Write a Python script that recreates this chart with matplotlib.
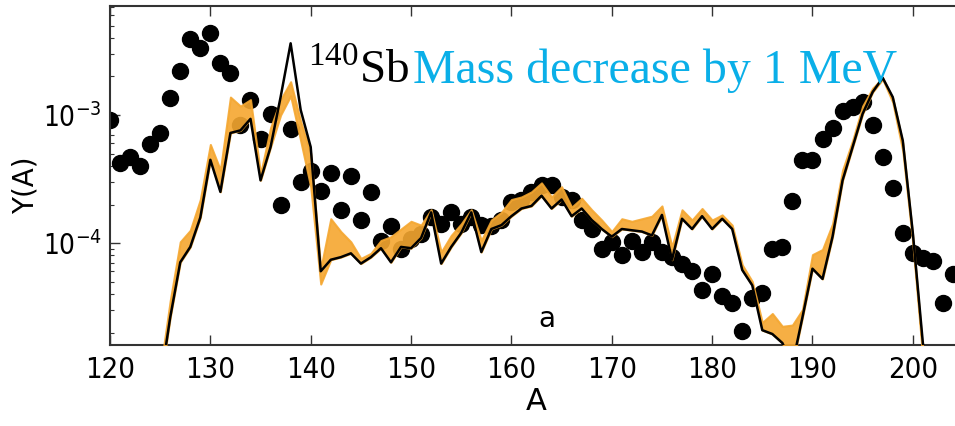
#!/usr/bin/env python3
"""r-process abundance pattern: 140Sb mass decreased by 1 MeV."""

import matplotlib
matplotlib.use("Agg")
import matplotlib.pyplot as plt
import numpy as np

# solar r-process abundances, log10 Y(A), A = 120..204
solar_A = list(range(120, 205))
solar_logY = [
    -3.04, -3.375, -3.33, -3.40, -3.23, -3.14, -2.87, -2.66, -2.41, -2.48,
    -2.36, -2.59, -2.67, -3.08, -2.88, -3.19, -2.99, -3.70, -3.11, -3.52,
    -3.44, -3.59, -3.45, -3.74, -3.48, -3.82, -3.60, -3.98, -3.87, -4.05,
    -3.97, -3.93, -3.80, -3.85, -3.76, -3.85, -3.80, -3.86, -3.87, -3.82,
    -3.68, -3.66, -3.60, -3.55, -3.55, -3.64, -3.66, -3.82, -3.89, -4.05,
    -3.99, -4.09, -3.98, -4.07, -3.99, -4.07, -4.11, -4.16, -4.22, -4.37,
    -4.24, -4.41, -4.47, -4.69, -4.43, -4.39, -4.05, -4.03, -3.67, -3.35,
    -3.35, -3.19, -3.10, -2.97, -2.94, -2.90, -3.08, -3.33, -3.57, -3.92,
    -4.08, -4.12, -4.14, -4.47, -4.24,
]

# model, A = 125..202
model_A = list(range(125, 203))
model_logY = [
    -5.10, -4.58, -4.15, -4.03, -3.80, -3.35, -3.60, -3.14, -3.12, -3.03,
    -3.51, -3.25, -2.86, -2.44, -2.96, -3.25, -4.22, -4.13, -4.11, -4.08,
    -4.16, -4.11, -4.04, -4.15, -4.03, -4.04, -3.96, -3.76, -4.16, -4.03,
    -3.92, -3.76, -4.07, -3.89, -3.86, -3.79, -3.73, -3.71, -3.63, -3.73,
    -3.66, -3.79, -3.73, -3.82, -3.89, -3.95, -3.89, -3.90, -3.91, -3.94,
    -3.78, -4.13, -3.81, -3.89, -3.79, -3.89, -3.81, -3.89, -4.21, -4.33,
    -4.68, -4.71, -4.78, -4.95, -4.58, -4.20, -4.28, -3.95, -3.51, -3.25,
    -2.99, -2.82, -2.71, -2.86, -3.20, -3.92, -4.78, -5.30,
]

# band from the -1 MeV mass variation (lower / upper edge), same A grid
band_lo = [
    -5.10, -4.58, -4.15, -4.03, -3.80, -3.35, -3.60, -3.14, -3.12, -3.03,
    -3.51, -3.25, -3.00, -2.85, -3.20, -3.56, -4.32, -4.13, -4.11, -4.08,
    -4.16, -4.11, -4.04, -4.15, -4.03, -4.04, -3.96, -3.76, -4.16, -4.03,
    -3.92, -3.76, -4.07, -3.89, -3.86, -3.79, -3.73, -3.71, -3.63, -3.73,
    -3.66, -3.79, -3.73, -3.82, -3.89, -3.95, -3.89, -3.90, -3.91, -3.94,
    -3.78, -4.13, -3.81, -3.89, -3.79, -3.89, -3.81, -3.89, -4.21, -4.33,
    -4.68, -4.71, -4.78, -4.95, -4.58, -4.20, -4.28, -3.95, -3.51, -3.25,
    -2.99, -2.82, -2.72, -2.90, -3.28, -4.00, -4.90, -5.40,
]
band_hi = [
    -5.00, -4.45, -3.99, -3.90, -3.66, -3.23, -3.43, -2.86, -2.93, -2.88,
    -3.46, -3.10, -2.88, -2.74, -3.05, -3.30, -4.20, -3.81, -3.91, -3.99,
    -4.12, -4.08, -3.98, -3.95, -3.89, -3.83, -3.86, -3.74, -4.07, -3.94,
    -3.85, -3.74, -3.98, -3.82, -3.76, -3.66, -3.64, -3.60, -3.53, -3.64,
    -3.56, -3.72, -3.65, -3.74, -3.82, -3.91, -3.81, -3.83, -3.81, -3.79,
    -3.71, -4.03, -3.74, -3.82, -3.73, -3.82, -3.78, -3.86, -4.17, -4.30,
    -4.62, -4.55, -4.65, -4.64, -4.52, -4.09, -4.05, -3.85, -3.43, -3.20,
    -2.93, -2.79, -2.71, -2.87, -3.22, -3.95, -4.85, -5.30,
]

x_ticks = [120, 130, 140, 150, 160, 170, 180, 190, 200]

ORANGE = "#F5A730"
CYAN = "#0AAFE8"
SPINE = "#333333"


def main() -> None:
    fig = plt.figure(figsize=(9.55, 4.26), dpi=100)
    W, H = 955, 426
    left, right, top, bottom = 110, 963, 6, 345
    ax = fig.add_axes([left / W, 1 - bottom / H, (right - left) / W, (bottom - top) / H])

    ax.plot(solar_A, 10 ** np.array(solar_logY), "o", color="black",
            markersize=11.5, zorder=2)
    ax.fill_between(model_A, 10 ** np.array(band_lo), 10 ** np.array(band_hi),
                    facecolor=ORANGE, edgecolor=ORANGE, linewidth=1.5,
                    alpha=0.9, zorder=3)
    ax.plot(model_A, 10 ** np.array(model_logY), color="black", linewidth=1.8,
            zorder=4)

    ax.set_yscale("log")
    ax.set_xlim(120, 205)
    ax.set_ylim(1.6e-5, 7.1e-3)
    ax.set_xticks(x_ticks)
    ax.set_yticks([1e-4, 1e-3])

    for s in ax.spines.values():
        s.set_color(SPINE)
        s.set_linewidth(1.5)
    ax.tick_params(which="both", direction="in", top=True, right=False,
                   color=SPINE)
    ax.tick_params(which="major", length=7, width=1.0, labelsize=21)
    ax.tick_params(which="minor", length=3, width=0.8)
    ax.tick_params(axis="x", which="minor", top=False, bottom=False)
    ax.tick_params(axis="x", pad=8)
    ax.tick_params(axis="y", pad=6, labelsize=20)
    for lbl in ax.get_xticklabels() + ax.get_yticklabels():
        lbl.set_fontstretch("condensed")

    ax.set_xlabel("A", fontsize=22, labelpad=2)
    ax.set_ylabel("Y(A)", fontsize=20)
    ax.yaxis.set_label_coords(-0.083, 0.47)

    ax.text(163.5, 2.2e-5, "a", fontsize=20, ha="center", va="baseline")

    fig.text(308 / W, 1 - 83 / H, r"$^{140}$Sb", fontsize=34,
             family="Liberation Serif", color="black", va="baseline")
    fig.text(413 / W, 1 - 83 / H, "Mass decrease by 1 MeV", fontsize=34.5,
             family="Liberation Serif", color=CYAN, va="baseline")

    fig.savefig("out.png", dpi=100)
    plt.close(fig)


if __name__ == "__main__":
    plt.rcParams["mathtext.fontset"] = "custom"
    plt.rcParams["mathtext.rm"] = "Liberation Serif"
    main()
